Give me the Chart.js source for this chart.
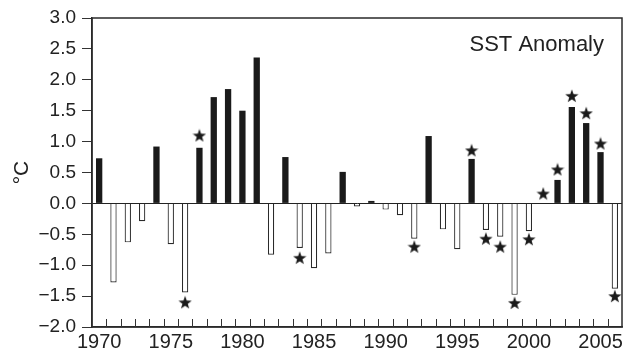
<!DOCTYPE html>
<html>
<head>
<meta charset="utf-8">
<script src="https://cdn.jsdelivr.net/npm/chart.js@4/dist/chart.umd.min.js"></script>
<style>
  html, body { margin: 0; padding: 0; background: #fff; }
  #wrap { width: 630px; height: 350px; }
</style>
</head>
<body>
<div id="wrap"><canvas id="sstChart" width="630" height="350"></canvas></div>
<script>
const years = [];
for (let y = 1970; y <= 2006; y++) years.push(String(y));

// SST anomaly per year (°C)
const anomaly = [
  0.73, -1.28, -0.63, -0.29, 0.92, -0.66, -1.44, 0.90, 1.72, 1.85,
  1.50, 2.36, -0.83, 0.75, -0.72, -1.05, -0.81, 0.51, -0.05, 0.04,
  -0.10, -0.19, -0.57, 1.09, -0.42, -0.74, 0.72, -0.43, -0.54, -1.48,
  -0.45, 0.00, 0.38, 1.56, 1.30, 0.83, -1.38
];

// star markers (null = no star)
const stars = [
  null, null, null, null, null, null, -1.60, 1.10, null, null,
  null, null, null, null, -0.88, null, null, null, null, null,
  null, null, -0.70, null, null, null, 0.86, -0.57, -0.70, -1.61,
  -0.58, 0.16, 0.55, 1.74, 1.46, 0.97, -1.50
];

const yTicks = [-2.0, -1.5, -1.0, -0.5, 0.0, 0.5, 1.0, 1.5, 2.0, 2.5, 3.0];
const labelYears = ['1970', '1975', '1980', '1985', '1990', '1995', '2000', '2005'];

// filled five point star used as point style
function makeStar(size) {
  const c = document.createElement('canvas');
  c.width = size; c.height = size;
  const g = c.getContext('2d');
  const cx = size / 2, cy = size / 2 + 0.6;
  const outer = size / 2, inner = outer * 0.4;
  g.beginPath();
  for (let i = 0; i < 10; i++) {
    const r = i % 2 === 0 ? outer : inner;
    const a = -Math.PI / 2 + i * Math.PI / 5;
    const px = cx + r * Math.cos(a), py = cy + r * Math.sin(a);
    if (i === 0) g.moveTo(px, py); else g.lineTo(px, py);
  }
  g.closePath();
  g.fillStyle = '#1a1a1a';
  g.fill();
  return c;
}

const framePlugin = {
  id: 'frame',
  afterDraw(chart) {
    const { ctx, chartArea: a, scales } = chart;
    ctx.save();
    ctx.strokeStyle = '#2a2a2a';
    ctx.lineWidth = 1.5;
    ctx.strokeRect(a.left, a.top, a.right - a.left, a.bottom - a.top);
    // x ticks pointing inward, at category boundaries
    const x = scales.x;
    const n = years.length;
    ctx.lineWidth = 1;
    ctx.strokeStyle = '#333';
    ctx.beginPath();
    for (let i = 1; i < n; i++) {
      const px = Math.round((x.getPixelForValue(i - 1) + x.getPixelForValue(i)) / 2) + 0.5;
      ctx.moveTo(px, a.bottom);
      ctx.lineTo(px, a.bottom - 8);
    }
    ctx.stroke();
    // label in upper right
    ctx.fillStyle = '#222';
    ctx.font = '22px "Liberation Sans", Arial, sans-serif';
    ctx.textAlign = 'right';
    ctx.textBaseline = 'alphabetic';
    ctx.fillText('SST Anomaly', a.right - 18, a.top + 33);
    ctx.restore();
  }
};

const ctx = document.getElementById('sstChart').getContext('2d');

new Chart(ctx, {
  type: 'bar',
  data: {
    labels: years,
    datasets: [
      {
        type: 'line',
        data: stars,
        showLine: false,
        pointStyle: makeStar(14),
        pointRadius: 7,
        order: 0
      },
      {
        data: anomaly,
        backgroundColor: anomaly.map(v => v >= 0 ? '#1a1a1a' : '#ffffff'),
        borderColor: '#2a2a2a',
        borderWidth: anomaly.map(v => v >= 0 ? 0 : 1.2),
        barPercentage: 0.44,
        categoryPercentage: 1.0,
        order: 1
      }
    ]
  },
  options: {
    responsive: false,
    animation: false,
    layout: { padding: { top: 18, right: 4, left: 0, bottom: 0 } },
    plugins: {
      legend: { display: false },
      tooltip: { enabled: false }
    },
    scales: {
      x: {
        grid: { display: true, drawOnChartArea: false, drawTicks: false },
        border: { color: '#2a2a2a', width: 1.5 },
        ticks: {
          autoSkip: false,
          maxRotation: 0,
          padding: 3,
          color: '#222',
          font: { family: '"Liberation Sans", Arial, sans-serif', size: 20 },
          callback: function (val) {
            const lab = this.getLabelForValue(val);
            return labelYears.includes(lab) ? lab : '';
          }
        },
        afterFit: s => { s.height = 23; }
      },
      y: {
        min: -2,
        max: 3,
        afterBuildTicks: s => { s.ticks = yTicks.map(v => ({ value: v })); },
        grid: {
          drawOnChartArea: true,
          tickLength: 10,
          tickColor: '#333',
          color: c => (c.tick && c.tick.value === 0) ? '#222' : 'rgba(0,0,0,0)'
        },
        border: { color: '#2a2a2a', width: 1.5 },
        ticks: {
          padding: 6,
          color: '#222',
          font: { family: '"Liberation Sans", Arial, sans-serif', size: 19 },
          callback: v => v.toFixed(1).replace('-', '\u2212')
        },
        title: {
          display: true,
          text: '°C',
          color: '#222',
          font: { family: '"Liberation Sans", Arial, sans-serif', size: 21 },
          padding: { top: 10, bottom: 0 }
        },
        afterFit: s => { s.width = 92; }
      }
    }
  },
  plugins: [framePlugin]
});
</script>
</body>
</html>
